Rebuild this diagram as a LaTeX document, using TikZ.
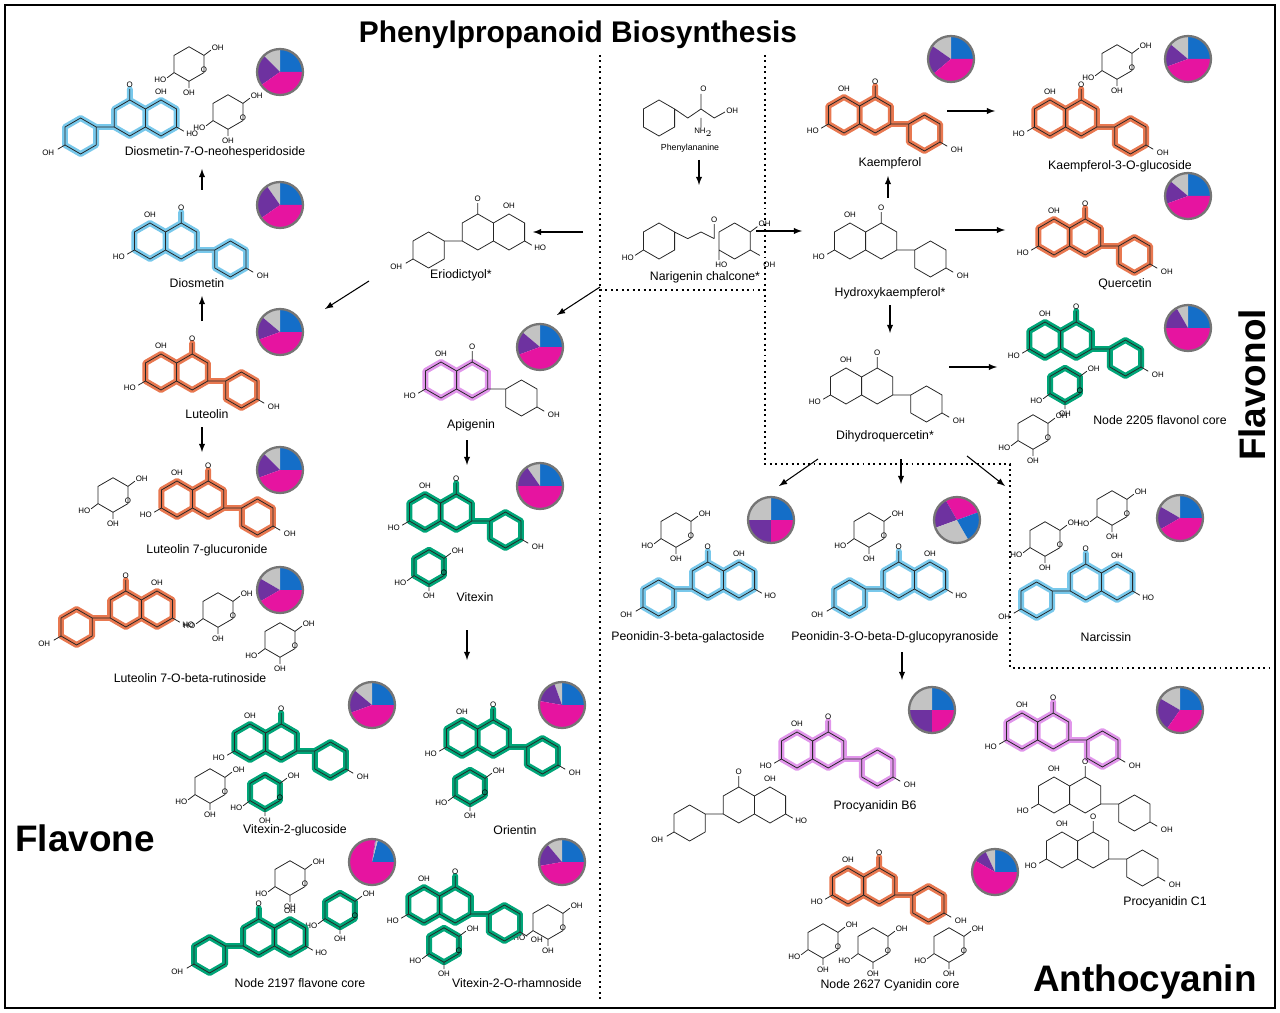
\documentclass[tikz,border=0pt]{standalone}
\usepackage{fontspec}
\setmainfont{Liberation Sans}
\begin{document}
\definecolor{hcy}{RGB}{120,200,235}
\definecolor{hor}{RGB}{232,120,80}
\definecolor{hgr}{RGB}{0,165,120}
\definecolor{hpk}{RGB}{225,150,235}
\definecolor{pbl}{RGB}{20,110,200}
\definecolor{pmg}{RGB}{230,20,160}
\definecolor{ppu}{RGB}{110,50,160}
\definecolor{pgr}{RGB}{195,195,195}
\newcommand\hexp[2]{(#1,#2-15)--(#1+13,#2-7.5)--(#1+13,#2+7.5)--(#1,#2+15)--(#1-13,#2+7.5)--(#1-13,#2-7.5)--cycle}
\newcommand\flav[4]{%
\begin{scope}[shift={(#1,#2)},xscale=#4,scale=1.2]
\draw[draw=#3,line width=3.4pt,line join=round,line cap=round] \hexp{0}{0} \hexp{26}{0} \hexp{67}{15} (39,7.5)--(54,7.5) (26,-15)--(26,-24);
\draw[mol] \hexp{0}{0} \hexp{26}{0} \hexp{67}{15} (39,7.5)--(54,7.5) (26,-15)--(26,-24) (-13,7.5)--(-19,11) (80,22.5)--(86,26);
\node[sm] at (-26,13) {HO};
\node[sm] at (94,29) {OH};
\node[sm] at (0,-22) {OH};
\node[sm] at (26,-28) {O};
\end{scope}}
\newcommand\sug[3]{%
\begin{scope}[shift={(#1,#2)},scale=1.15]
\draw[draw=#3,line width=3.4pt,line join=round] \hexp{0}{0};
\draw[mol] \hexp{0}{0} (13,-7.5)--(19,-12) (-13,7.5)--(-19,12) (0,15)--(0,21);
\node[sm] at (25,-14) {OH};
\node[sm] at (-25,14) {HO};
\node[sm] at (0,25) {OH};
\node[sm] at (13,5) {O};
\end{scope}}
\newcommand\piechart[6]{%
\begin{scope}[shift={(#1,#2)}]
\fill[pbl] (0,0) -- (#6:0.45cm) arc[start angle=#6,end angle=#3,radius=0.45cm] -- cycle;
\fill[pgr] (0,0) -- (#3:0.45cm) arc[start angle=#3,end angle=#4,radius=0.45cm] -- cycle;
\fill[ppu] (0,0) -- (#4:0.45cm) arc[start angle=#4,end angle=#5,radius=0.45cm] -- cycle;
\fill[pmg] (0,0) -- (#5:0.45cm) arc[start angle=#5,end angle=#6+360,radius=0.45cm] -- cycle;
\draw[pgr!60!black,line width=1.3pt] (0,0) circle[radius=0.46cm];
\end{scope}}
\newcommand\pie[5]{\piechart{#1}{#2}{#3}{#4}{#5}{0}}
\begin{tikzpicture}[x=0.02cm,y=-0.02cm,
  mol/.style={black!85,line width=0.45pt,line join=round},
  sm/.style={font=\fontsize{4.5}{5}\selectfont,inner sep=0pt},
  lab/.style={font=\fontsize{7}{8}\selectfont,inner sep=1pt},
  big/.style={font=\bfseries\fontsize{21}{24}\selectfont},
  arr/.style={-latex,line width=0.6pt},
  dots/.style={dotted,line width=1.1pt}]
\useasboundingbox (0,0) rectangle (1280,1013);
\draw[line width=1pt] (5,5) rectangle (1275,1008);
\node[font=\bfseries\fontsize{17}{20}\selectfont] (title) at (578,35) {Phenylpropanoid Biosynthesis};
\node[big] (flavone) at (85,838) {Flavone};
\node[big,rotate=90] (flavonol) at (1252,385) {Flavonol};
\node[big] (antho) at (1145,982) {Anthocyanin};
% dotted borders
\draw[dots] (600,55) -- (600,1000);
\draw[dots] (600,290) -- (765,290);
\draw[dots] (765,55) -- (765,464) -- (1010,464) -- (1010,668) -- (1275,668);
% pies
\pie{280}{72}{90}{135}{215}
\pie{280}{205}{90}{125}{215}
\pie{280}{332}{90}{140}{200}
\pie{280}{470}{90}{135}{200}
\pie{280}{590}{90}{150}{210}
\pie{540}{347}{90}{140}{200}
\pie{540}{486}{90}{125}{180}
\pie{372}{705}{90}{140}{200}
\pie{562}{705}{90}{110}{170}
\pie{372}{862}{75}{80}{82}
\pie{562}{862}{90}{130}{190}
\pie{951}{59}{90}{145}{220}
\pie{1188}{59}{90}{140}{200}
\pie{1188}{196}{90}{140}{200}
\pie{1188}{328}{90}{120}{180}
\pie{771}{520}{90}{180}{270}
\begin{scope}[shift={(957,520)}]
\fill[pmg] (0,0) -- (20:0.45cm) arc[start angle=20,end angle=120,radius=0.45cm] -- cycle;
\fill[ppu] (0,0) -- (120:0.45cm) arc[start angle=120,end angle=200,radius=0.45cm] -- cycle;
\fill[pgr] (0,0) -- (200:0.45cm) arc[start angle=200,end angle=300,radius=0.45cm] -- cycle;
\fill[pbl] (0,0) -- (300:0.45cm) arc[start angle=300,end angle=380,radius=0.45cm] -- cycle;
\draw[pgr!60!black,line width=1.3pt] (0,0) circle[radius=0.46cm];
\end{scope}
\pie{1180}{518}{90}{150}{210}
\pie{932}{710}{90}{180}{270}
\pie{1180}{710}{90}{150}{235}
\pie{995}{872}{90}{115}{150}
% left column molecules
\sug{189}{64}{none}\sug{228}{112}{none}
\flav{161}{118}{hcy}{-1}
\node[lab] (dn) at (215,152) {Diosmetin-7-O-neohesperidoside};
\flav{150}{241}{hcy}{1}
\node[lab] (dio) at (197,283) {Diosmetin};
\flav{161}{372}{hor}{1}
\node[lab] (lut) at (207,414) {Luteolin};
\sug{113}{495}{none}
\flav{177}{499}{hor}{1}
\node[lab] (lutg) at (207,550) {Luteolin 7-glucuronide};
\sug{218}{610}{none}\sug{280}{640}{none}
\flav{157}{609}{hor}{-1}
\node[lab] (lutr) at (190,678) {Luteolin 7-O-beta-rutinoside};
\flav{509}{232}{none}{-1}
\node[lab] (eri) at (461,275) {Eriodictyol*};
\begin{scope}[shift={(441,380)},scale=1.2]
\draw[hpk,line width=3.4pt,line join=round] \hexp{0}{0} \hexp{26}{0};
\end{scope}
\flav{441}{380}{none}{1}
\node[lab] (api) at (471,425) {Apigenin};
\sug{429}{567}{hgr}
\flav{425}{512}{hgr}{1}
\node[lab] (vit) at (475,597) {Vitexin};
\sug{210}{786}{none}\sug{265}{792}{hgr}
\flav{250}{742}{hgr}{1}
\node[lab] (v2g) at (295,830) {Vitexin-2-glucoside};
\sug{470}{787}{hgr}
\flav{462}{738}{hgr}{1}
\node[lab] (ori) at (515,830) {Orientin};
\sug{290}{878}{none}\sug{340}{910}{hgr}
\flav{290}{937}{hgr}{-1}
\node[lab] (n2197) at (300,983) {Node 2197 flavone core};
\sug{444}{945}{hgr}\sug{548}{922}{none}
\flav{424}{905}{hgr}{1}
\node[lab] (v2r) at (517,983) {Vitexin-2-O-rhamnoside};
% middle
\begin{scope}[shift={(659,118)},scale=1.2]
\draw[mol] \hexp{0}{0} (13,-7.5)--(24,0)--(35,-7.5)--(46,0) (35,-7.5)--(35,-20) (46,0)--(55,-5) (35,0)--(35,8);
\node[sm] at (37,-24) {O}; \node[sm] at (61,-6) {OH}; \node[sm] at (37,12) {NH$_2$};
\end{scope}
\node[lab,font=\fontsize{5}{6}\selectfont] (phe) at (690,148) {Phenylananine};
\begin{scope}[shift={(659,241)},scale=1.2]
\draw[mol] \hexp{0}{0} (13,-7.5)--(24,-2)--(35,-7.5)--(46,-2) (46,-2)--(46,-14) \hexp{63}{0} (76,-7.5)--(82,-12) (50,7.5)--(50,16) (76,7.5)--(84,12) (-13,7.5)--(-20,12);
\node[sm] at (46,-18) {O}; \node[sm] at (88,-14) {OH}; \node[sm] at (52,20) {HO}; \node[sm] at (-26,14) {HO}; \node[sm] at (92,20) {OH};
\end{scope}
\node[lab] (nar) at (705,277) {Narigenin chalcone*};
% right
\flav{844}{115}{hor}{1}
\node[lab] (kae) at (890,163) {Kaempferol};
\sug{1117}{62}{none}
\flav{1050}{118}{hor}{1}
\node[lab] (k3g) at (1120,166) {Kaempferol-3-O-glucoside};
\flav{850}{241}{none}{1}
\node[lab] (hk) at (890,293) {Hydroxykaempferol*};
\flav{1054}{237}{hor}{1}
\node[lab] (que) at (1125,284) {Quercetin};
\flav{846}{386}{none}{1}
\node[lab] (dhq) at (885,436) {Dihydroquercetin*};
\sug{1033}{432}{none}\sug{1065}{385}{hgr}
\flav{1045}{340}{hgr}{1}
\node[lab] (n2205) at (1160,420) {Node 2205 flavonol core};
\sug{676}{530}{none}
\flav{739}{580}{hcy}{-1}
\node[lab] (p3b) at (688,637) {Peonidin-3-beta-galactoside};
\sug{869}{530}{none}
\flav{930}{580}{hcy}{-1}
\node[lab] (p3o) at (895,637) {Peonidin-3-O-beta-D-glucopyranoside};
\sug{1045}{539}{none}\sug{1112}{508}{none}
\flav{1117}{582}{hcy}{-1}
\node[lab] (nar2) at (1106,637) {Narcissin};
\flav{770}{805}{none}{-1}
\flav{797}{750}{hpk}{1}
\node[lab] (pb6) at (875,806) {Procyanidin B6};
\flav{1022}{731}{hpk}{1}
\flav{1054}{795}{none}{1}
\flav{1062}{850}{none}{1}
\node[lab] (pc1) at (1165,902) {Procyanidin C1};
\sug{823}{941}{none}\sug{873}{945}{none}\sug{949}{945}{none}
\flav{848}{886}{hor}{1}
\node[lab] (n2627) at (890,985) {Node 2627 Cyanidin core};
% arrow end points
\coordinate (a1) at (699,160); \coordinate (a2) at (699,185);
\coordinate (b1) at (583,232); \coordinate (b2) at (533,232);
\coordinate (c1) at (756,231); \coordinate (c2) at (802,231);
\coordinate (d1) at (600,287); \coordinate (d2) at (557,315);
\coordinate (e1) at (369,281); \coordinate (e2) at (325,309);
\coordinate (f1) at (202,321); \coordinate (f2) at (202,296);
\coordinate (g1) at (202,190); \coordinate (g2) at (202,169);
\coordinate (s1) at (202,427); \coordinate (s2) at (202,452);
\coordinate (h1) at (467,440); \coordinate (h2) at (467,465);
\coordinate (i1) at (467,630); \coordinate (i2) at (467,660);
\coordinate (j1) at (888,198); \coordinate (j2) at (888,176);
\coordinate (k1) at (947,111); \coordinate (k2) at (995,111);
\coordinate (l1) at (955,230); \coordinate (l2) at (1005,230);
\coordinate (m1) at (890,305); \coordinate (m2) at (890,333);
\coordinate (n1) at (949,367); \coordinate (n2) at (997,367);
\coordinate (o1) at (818,459); \coordinate (o2) at (779,486);
\coordinate (p1) at (901,459); \coordinate (p2) at (901,484);
\coordinate (q1) at (967,456); \coordinate (q2) at (1005,486);
\coordinate (r1) at (902,652); \coordinate (r2) at (902,680);
\foreach \s/\t in {a1/a2,b1/b2,c1/c2,d1/d2,e1/e2,f1/f2,g1/g2,s1/s2,h1/h2,i1/i2,j1/j2,k1/k2,l1/l2,m1/m2,n1/n2,o1/o2,p1/p2,q1/q2,r1/r2}
  \draw[arr] (\s) -- (\t);
\end{tikzpicture}
\end{document}
